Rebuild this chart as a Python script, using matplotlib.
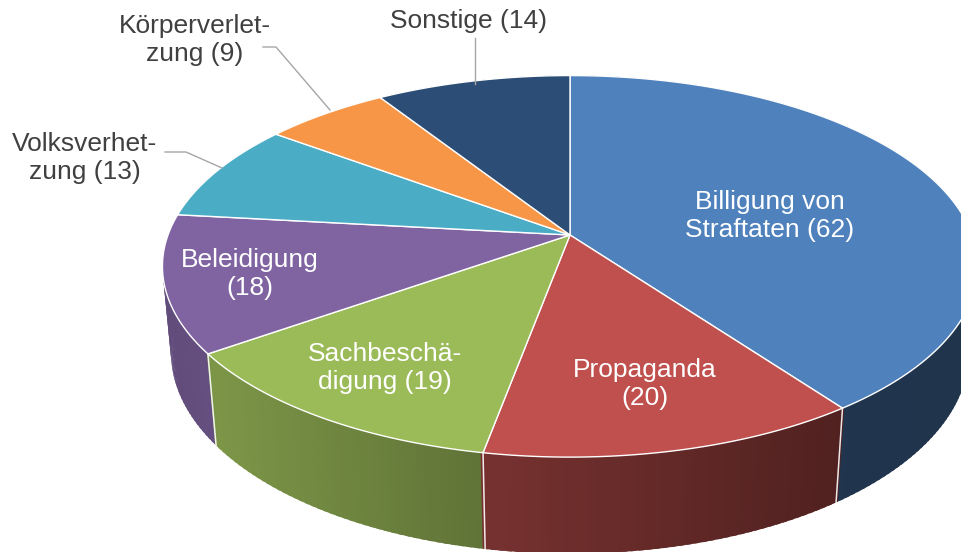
import numpy as np
import matplotlib.pyplot as plt
from matplotlib.patches import Polygon
from matplotlib.colors import to_rgb

# data
labels = ["Billigung von\nStraftaten (62)", "Propaganda\n(20)", "Sachbeschä-\ndigung (19)",
          "Beleidigung\n(18)", "Volksverhet-\nzung (13)", "Körperverlet-\nzung (9)", "Sonstige (14)"]
values = [62, 20, 19, 18, 13, 9, 14]
colors = ["#4f81bd", "#c0504d", "#9bbb59", "#8064a2", "#4bacc6", "#f79646", "#2c4d75"]
inside = [True, True, True, True, False, False, False]

# layout (pixel coords of the 962x552 canvas)
label_pos = [(770, 216), (645, 384), (385, 368), (250, 274), (85, 158), (195, 40), (469, 21)]
leaders = [None, None, None, None,
           [(165, 152), (186, 152), (222, 168)],
           [(263, 47), (276, 47), (330, 110)],
           [(475, 38), (475, 84)]]

W, H = 962, 552
CX, CY = 570, 235
tilt = np.radians(27.5)
dist = 5.4
focal = 402 * dist
thick = 0.245


def project(theta, r=1.0, z=0.0):
    x = r * np.cos(theta)
    yf = -r * np.sin(theta)
    d = dist - (yf * np.cos(tilt) + z * np.sin(tilt))
    px = CX + focal * x / d
    py = CY + focal * (yf * np.sin(tilt) - z * np.cos(tilt)) / d
    return px, py


def shade(px):
    return np.interp(px, [160, 215, 480, 850, 970], [0.75, 0.8, 0.62, 0.41, 0.4])


fig = plt.figure(figsize=(9.62, 5.52), dpi=100)
ax = fig.add_axes([0, 0, 1, 1])
ax.set_xlim(0, W)
ax.set_ylim(H, 0)
ax.axis("off")

total = float(sum(values))
bounds = [90.0]
for v in values:
    bounds.append(bounds[-1] - v / total * 360.0)

# side walls, cut in thin strips and drawn back to front
strips = []
for i, v in enumerate(values):
    t0, t1 = np.radians(bounds[i]), np.radians(bounds[i + 1])
    n = max(int(abs(bounds[i] - bounds[i + 1])), 2)
    ts = np.linspace(t0, t1, n + 1)
    step = (t1 - t0) / n
    for a, b in zip(ts[:-1], ts[1:]):
        depth = -np.sin((a + b) / 2)
        # small overlap so no seams show between strips
        strips.append((depth, i, a - 0.3 * step, b + 0.3 * step, a, b))
strips.sort(key=lambda s: s[0])
for depth, i, a, b, a0, b0 in strips:
    p1 = project(a); p2 = project(b)
    p3 = project(b, z=-thick); p4 = project(a, z=-thick)
    f = shade((p1[0] + p2[0]) / 2)
    c = tuple(np.array(to_rgb(colors[i])) * f)
    ax.add_patch(Polygon([p1, p2, p3, p4], closed=True, facecolor=c, edgecolor="none"))

# vertical edges between walls on the visible front
for t in bounds:
    th = np.radians(t)
    if -np.sin(th) > 0.05:
        top = project(th); bot = project(th, z=-thick)
        ax.plot([top[0], bot[0]], [top[1], bot[1]], color="white", lw=1.1, alpha=0.9)

# top faces
for i, v in enumerate(values):
    ts = np.radians(np.linspace(bounds[i], bounds[i + 1], 120))
    pts = [project(0, r=0)] + [project(t) for t in ts]
    ax.add_patch(Polygon(pts, closed=True, facecolor=colors[i], edgecolor="white", lw=1.0))

# labels
for i, lab in enumerate(labels):
    col = "white" if inside[i] else "#404040"
    ax.text(label_pos[i][0], label_pos[i][1], lab, ha="center", va="center", color=col,
            fontsize=19, family=["Liberation Sans", "DejaVu Sans"], linespacing=1.2)
    if leaders[i]:
        xs, ys = zip(*leaders[i])
        ax.plot(xs, ys, color="#a6a6a6", lw=1.0)

fig.savefig("out.png", dpi=100)
